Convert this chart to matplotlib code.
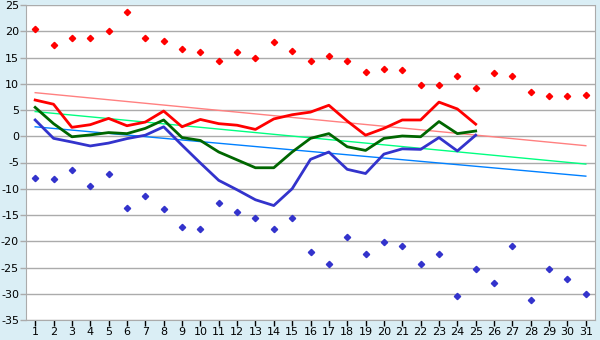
import numpy as np
import matplotlib
matplotlib.use('Agg')
import matplotlib.pyplot as plt

####Data####
days = list(range(1, 32))

max_pts = [20.4, 17.3, 18.8, 18.8, 20.0, 23.6, 18.8, 18.2, 16.7, 16.1,
           14.3, 16.0, 15.0, 17.9, 16.2, 14.4, 15.2, 14.3, 12.2, 12.9,
           12.7, 9.7, 9.7, 11.4, 9.1, 12.0, 11.4, 8.5, 7.6, 7.6, 7.8]
min_pts = [-7.9, -8.1, -6.4, -9.4, -7.1, -13.6, -11.3, -13.8, -17.2, -17.6,
           -12.7, -14.4, -15.5, -17.6, -15.5, -22.0, -24.3, -19.1, -22.4, -20.1,
           -20.9, -24.3, -22.4, -30.4, -25.2, -27.9, -20.9, -31.2, -25.2, -27.2, -30.0]

# daily lines only go up to day 25
line_days = list(range(1, 26))
red_line = [6.9, 6.1, 1.7, 2.2, 3.4, 2.0, 2.7, 4.8, 1.8, 3.2,
            2.4, 2.1, 1.3, 3.3, 4.1, 4.6, 5.9, 2.9, 0.2, 1.5,
            3.1, 3.1, 6.5, 5.2, 2.3]
green_line = [5.5, 2.4, -0.1, 0.25, 0.7, 0.5, 1.5, 3.1, -0.25, -0.8,
              -3.0, -4.5, -6.0, -6.0, -3.0, -0.4, 0.5, -2.0, -2.7, -0.4,
              0.05, -0.1, 2.8, 0.5, 1.0]
blue_line = [3.1, -0.4, -1.1, -1.85, -1.3, -0.45, 0.2, 1.8, -1.7, -5.1,
             -8.4, -10.2, -12.1, -13.2, -10.0, -4.4, -3.0, -6.3, -7.1, -3.4,
             -2.4, -2.5, -0.25, -2.8, 0.2]

# straight trend lines, value at day 1 and day 31
trend_days = [1, 31]
red_trend = [8.3, -1.8]
green_trend = [4.7, -5.3]
blue_trend = [1.8, -7.6]

yticks = list(range(-35, 30, 5))

####Plot####
plt.rcParams['axes.unicode_minus'] = False
bg = '#daeef5'
grid_col = '#ababab'

fig = plt.figure(figsize=(6, 3.4), dpi=100, facecolor=bg)
ax = fig.add_axes([26/600, 20/340, 569/600, 315/340])
ax.set_facecolor('white')

ax.plot(trend_days, red_trend, color='#ff8080', lw=1, zorder=2)
ax.plot(trend_days, green_trend, color='#00ff80', lw=1, zorder=2)
ax.plot(trend_days, blue_trend, color='#0080ff', lw=1, zorder=2)

ax.plot(line_days, red_line, color='#ff0000', lw=2, zorder=3)
ax.plot(line_days, green_line, color='#006600', lw=2, zorder=3)
ax.plot(line_days, blue_line, color='#3333cc', lw=2, zorder=3)

ax.plot(days, max_pts, ls='none', marker='D', ms=3.2, color='#ff0000', zorder=4)
ax.plot(days, min_pts, ls='none', marker='D', ms=3.2, color='#3333cc', zorder=4)

ax.set_xlim(0.5, 31.5)
ax.set_ylim(-35, 25)
ax.set_xticks(days)
ax.set_yticks(yticks)
ax.yaxis.grid(True, color=grid_col, lw=1)
ax.set_axisbelow(True)

for s in ['left', 'bottom', 'right']:
    ax.spines[s].set_color(grid_col)
ax.spines['top'].set_visible(False)

ax.tick_params(axis='both', colors='black', labelsize=8, width=1)
ax.tick_params(axis='x', color='black', length=4, pad=1)
ax.tick_params(axis='y', color=grid_col, length=4, pad=1)

fig.savefig('out.png', dpi=100, facecolor=bg)
